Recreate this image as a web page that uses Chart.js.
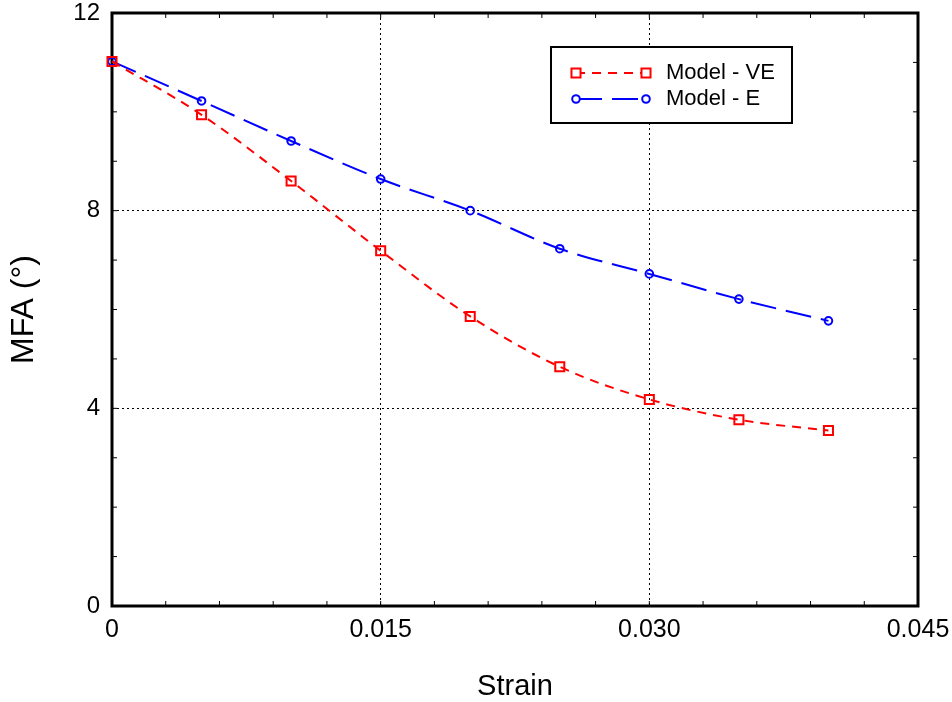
<!DOCTYPE html>
<html>
<head>
<meta charset="utf-8">
<script src="https://cdn.jsdelivr.net/npm/chart.js@4.4.1/dist/chart.umd.min.js"></script>
<style>
html,body{margin:0;padding:0;background:#fff;}
#wrap{width:952px;height:702px;}
</style>
</head>
<body>
<div id="wrap"><canvas id="c" width="952" height="702"></canvas></div>
<script>
const strain = [0, 0.005, 0.010, 0.015, 0.020, 0.025, 0.030, 0.035, 0.040];
const mfaVE = [11.02, 9.94, 8.60, 7.19, 5.86, 4.84, 4.18, 3.77, 3.55];
const mfaE  = [11.02, 10.22, 9.41, 8.64, 8.00, 7.23, 6.72, 6.21, 5.77];
const seriesNames = ['Model - VE', 'Model - E'];
const xMajorTicks = [0, 0.015, 0.030, 0.045];
const yMajorTicks = [0, 4, 8, 12];

const FONT = 'Liberation Sans, Arial, Helvetica, sans-serif';

function isMajor(v, arr){ return arr.some(m => Math.abs(m - v) < 1e-9); }

const frameAndTicks = {
  id: 'frameAndTicks',
  beforeDatasetsDraw(chart){
    const {ctx, chartArea:a, scales:{x, y}} = chart;
    ctx.save();
    ctx.strokeStyle = '#000';
    ctx.lineWidth = 1;
    const tl = 5;
    x.ticks.forEach(t => {
      const px = x.getPixelForValue(t.value);
      ctx.beginPath();
      ctx.moveTo(px, a.bottom); ctx.lineTo(px, a.bottom - tl);
      ctx.moveTo(px, a.top); ctx.lineTo(px, a.top + tl);
      ctx.stroke();
    });
    y.ticks.forEach(t => {
      const py = y.getPixelForValue(t.value);
      ctx.beginPath();
      ctx.moveTo(a.left, py); ctx.lineTo(a.left + tl, py);
      ctx.moveTo(a.right, py); ctx.lineTo(a.right - tl, py);
      ctx.stroke();
    });
    ctx.lineWidth = 3;
    ctx.strokeRect(a.left, a.top, a.right - a.left, a.bottom - a.top);
    ctx.restore();
  }
};

const customLegend = {
  id: 'customLegend',
  afterDraw(chart){
    const {ctx} = chart;
    const bx = 551, by = 47, bw = 241, bh = 76;
    ctx.save();
    ctx.fillStyle = '#fff';
    ctx.fillRect(bx, by, bw, bh);
    ctx.strokeStyle = '#000';
    ctx.lineWidth = 2;
    ctx.strokeRect(bx, by, bw, bh);
    const rows = [73, 99];
    chart.data.datasets.forEach((ds, i) => {
      const yy = rows[i];
      const x1 = 576, x2 = 646;
      ctx.strokeStyle = ds.borderColor;
      ctx.lineWidth = 2;
      ctx.setLineDash(ds.borderDash);
      ctx.beginPath(); ctx.moveTo(x1, yy); ctx.lineTo(x2, yy); ctx.stroke();
      ctx.setLineDash([]);
      [x1, x2].forEach(px => {
        ctx.fillStyle = '#ffffff';
        ctx.strokeStyle = ds.borderColor;
        ctx.lineWidth = ds.pointBorderWidth;
        Chart.helpers.drawPoint(ctx, {
          pointStyle: ds.pointStyle, radius: ds.pointRadius, borderWidth: ds.pointBorderWidth, rotation: 0
        }, px, yy);
      });
      ctx.fillStyle = '#000';
      ctx.font = '22px ' + FONT;
      ctx.textBaseline = 'middle';
      ctx.textAlign = 'left';
      ctx.fillText(ds.label, 666, yy);
    });
    ctx.restore();
  }
};

new Chart(document.getElementById('c'), {
  type: 'line',
  data: {
    datasets: [
      {
        label: seriesNames[0],
        data: strain.map((s, i) => ({x: s, y: mfaVE[i]})),
        borderColor: '#ff0000',
        backgroundColor: '#ffffff',
        borderWidth: 2,
        borderDash: [9, 7],
        pointStyle: 'rect',
        pointRadius: 6.4,
        pointBorderWidth: 2,
        pointBackgroundColor: 'rgba(255,255,255,0)',
        pointBorderColor: '#ff0000',
        cubicInterpolationMode: 'monotone',
        clip: false
      },
      {
        label: seriesNames[1],
        data: strain.map((s, i) => ({x: s, y: mfaE[i]})),
        borderColor: '#0000ff',
        backgroundColor: '#ffffff',
        borderWidth: 2,
        borderDash: [26, 10],
        pointStyle: 'circle',
        pointRadius: 3.8,
        pointBorderWidth: 2,
        pointBackgroundColor: 'rgba(255,255,255,0)',
        pointBorderColor: '#0000ff',
        cubicInterpolationMode: 'monotone',
        clip: false
      }
    ]
  },
  options: {
    responsive: false,
    animation: false,
    devicePixelRatio: 1,
    layout: {padding: {left: 0, right: 34, top: 13, bottom: 0}},
    plugins: {legend: {display: false}, tooltip: {enabled: false}},
    scales: {
      x: {
        type: 'linear',
        min: 0, max: 0.045,
        afterFit(s){ s.height = 96; s.paddingLeft = 0; s.paddingRight = 0; s.paddingTop = 0; s.paddingBottom = 0; },
        border: {display: false, dash: [2, 3]},
        grid: {
          drawTicks: false,
          color: c => (c.tick && isMajor(c.tick.value, xMajorTicks) && c.tick.value > 0 && c.tick.value < 0.045) ? '#000' : 'rgba(0,0,0,0)',
          lineWidth: 1
        },
        afterBuildTicks(s){
          const t = [];
          for (let i = 0; i <= 15; i++) t.push({value: +(i * 0.003).toFixed(4)});
          s.ticks = t;
        },
        ticks: {
          autoSkip: false, maxRotation: 0, padding: 9,
          color: '#000',
          font: {family: FONT, size: 25},
          callback: v => isMajor(v, xMajorTicks) ? (v === 0 ? '0' : v.toFixed(3)) : ''
        },
        title: {
          display: true, text: 'Strain', color: '#000',
          font: {family: FONT, size: 29, lineHeight: 1},
          padding: {top: 0, bottom: 1}
        }
      },
      y: {
        type: 'linear',
        min: 0, max: 12,
        afterFit(s){ s.width = 112; s.paddingLeft = 0; s.paddingRight = 0; s.paddingTop = 0; s.paddingBottom = 0; },
        border: {display: false, dash: [2, 3]},
        grid: {
          drawTicks: false,
          color: c => (c.tick && isMajor(c.tick.value, yMajorTicks) && c.tick.value > 0 && c.tick.value < 12) ? '#000' : 'rgba(0,0,0,0)',
          lineWidth: 1
        },
        afterBuildTicks(s){
          const t = [];
          for (let i = 0; i <= 12; i++) t.push({value: i});
          s.ticks = t;
        },
        ticks: {
          autoSkip: false, padding: 12,
          color: '#000',
          font: {family: FONT, size: 24},
          callback: v => isMajor(v, yMajorTicks) ? String(v) : ''
        },
        title: {
          display: true, text: 'MFA (°)', color: '#000',
          font: {family: FONT, size: 32, lineHeight: 1},
          padding: {top: 8, bottom: 0}
        }
      }
    }
  },
  plugins: [frameAndTicks, customLegend]
});
</script>
</body>
</html>
